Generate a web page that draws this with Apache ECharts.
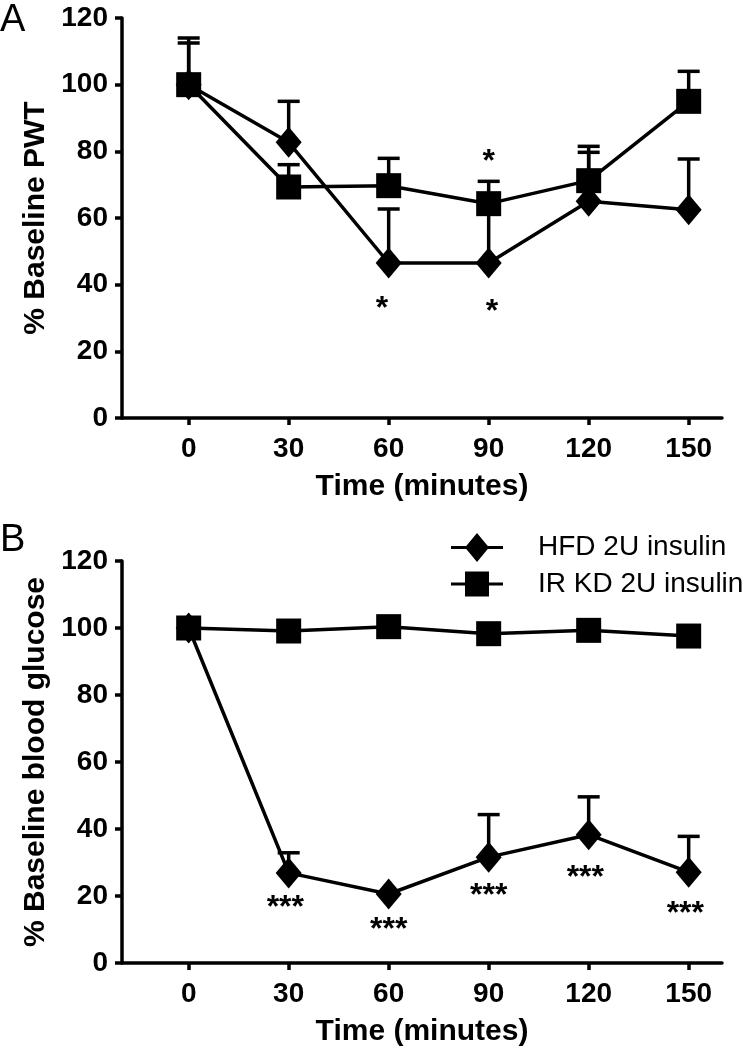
<!DOCTYPE html>
<html>
<head>
<meta charset="utf-8">
<script src="https://cdn.jsdelivr.net/npm/echarts@6.0.0/dist/echarts.min.js"></script>
<style>
html,body{margin:0;padding:0;background:#fff;}
#chart{width:745px;height:1050px;}
</style>
</head>
<body>
<div id="chart"></div>
<script>
// ---- data ----
const timeMin = [0, 30, 60, 90, 120, 150];
const xTicks = [0, 30, 60, 90, 120, 150];
const yTicks = [0, 20, 40, 60, 80, 100, 120];

// Panel A: % Baseline PWT
const pwtHFD      = [100, 82.7, 46.5, 46.5, 65.0, 62.5];
const pwtHFDUpper = [112.5, 95.0, 62.7, 62.3, 79.7, 77.7];
const pwtIR       = [100, 69.3, 69.7, 64.3, 71.2, 95.0];
const pwtIRUpper  = [114.0, 76.0, 77.9, 71.0, 81.5, 104.0];
const starsA_x    = [58, 90, 91];
const starsA_y    = [35, 79, 34];
const starsA_text = ['*', '*', '*'];

// Panel B: % Baseline blood glucose
const gluHFD      = [100, 26.9, 20.6, 31.6, 38.3, 27.1];
const gluHFDUpper = [100, 32.9, 20.6, 44.3, 49.6, 37.8];
const gluIR       = [100, 99.1, 100.4, 98.3, 99.3, 97.6];
const starsB_x    = [29, 60, 90, 119, 149];
const starsB_y    = [18.9, 12.3, 22.4, 27.6, 16.9];
const starsB_text = ['***', '***', '***', '***', '***'];

const seriesNames = ['HFD 2U insulin', 'IR KD 2U insulin'];
// ---------------

const FONT = '"Liberation Sans", Arial, Helvetica, sans-serif';
const chart = echarts.init(document.getElementById('chart'), null, {renderer: 'canvas'});

function pts(ys) { return timeMin.map((t, i) => [t, ys[i]]); }
function errPts(ys, up) { return timeMin.map((t, i) => [t, ys[i], up[i]]); }
function starPts(xs, ys) { return xs.map((x, i) => [x, ys[i]]); }

function errRender(params, api) {
  const x = api.value(0), y = api.value(1), hi = api.value(2);
  if (!(hi > y)) return null;
  const p0 = api.coord([x, y]);
  const p1 = api.coord([x, hi]);
  const hw = 11;
  return {
    type: 'group',
    children: [
      {type: 'line', shape: {x1: p0[0], y1: p0[1], x2: p1[0], y2: p1[1]}, style: {stroke: '#000', lineWidth: 3.5}},
      {type: 'line', shape: {x1: p1[0] - hw, y1: p1[1], x2: p1[0] + hw, y2: p1[1]}, style: {stroke: '#000', lineWidth: 3.5}}
    ]
  };
}
function starRender(texts) {
  return function (params, api) {
    const p = api.coord([api.value(0), api.value(1)]);
    return {
      type: 'text',
      x: p[0], y: p[1] + 8,
      style: {text: texts[params.dataIndex], font: 'bold 32px ' + FONT, fill: '#000', textAlign: 'center', textVerticalAlign: 'middle'}
    };
  };
}

function xAxisDef(idx) {
  return {
    type: 'value', gridIndex: idx, min: -20, max: 160,
    name: 'Time (minutes)', nameLocation: 'middle', nameGap: 54,
    nameTextStyle: {fontFamily: FONT, fontWeight: 'bold', fontSize: 30, color: '#000'},
    axisLine: {show: true, onZero: false, lineStyle: {color: '#000', width: 3.5}},
    axisTick: {show: true, length: 7, lineStyle: {color: '#000', width: 3.5}, customValues: xTicks},
    axisLabel: {fontFamily: FONT, fontWeight: 'bold', fontSize: 28, color: '#000', margin: 17, customValues: xTicks},
    splitLine: {show: false}
  };
}
function yAxisDef(idx, name) {
  return {
    type: 'value', gridIndex: idx, min: 0, max: 120, interval: 20,
    name: name, nameLocation: 'middle', nameGap: 70, nameRotate: 90,
    nameTextStyle: {fontFamily: FONT, fontWeight: 'bold', fontSize: 30, color: '#000'},
    axisLine: {show: true, onZero: false, lineStyle: {color: '#000', width: 3.5}},
    axisTick: {show: true, length: 7, lineStyle: {color: '#000', width: 3.5}},
    axisLabel: {fontFamily: FONT, fontWeight: 'bold', fontSize: 28, color: '#000', margin: 14},
    splitLine: {show: false}
  };
}
function lineSeries(name, xi, data, symbol, size) {
  return {
    type: 'line', name: name, xAxisIndex: xi, yAxisIndex: xi, data: data,
    symbol: symbol, symbolSize: size, showSymbol: true,
    lineStyle: {color: '#000', width: 3.5}, itemStyle: {color: '#000'},
    z: 3, animation: false
  };
}
function errSeries(xi, data) {
  return {type: 'custom', xAxisIndex: xi, yAxisIndex: xi, data: data, renderItem: errRender, z: 2, animation: false, encode: {x: 0, y: 1}};
}
function starSeries(xi, data, texts) {
  return {type: 'custom', xAxisIndex: xi, yAxisIndex: xi, data: data, renderItem: starRender(texts), z: 4, animation: false, encode: {x: 0, y: 1}};
}

const DIAMOND = [26, 31];
const SQUARE = [25, 25];

const option = {
  backgroundColor: '#fff',
  animation: false,
  grid: [
    {left: 122, top: 18, width: 600, height: 400},
    {left: 122, top: 561, width: 600, height: 402}
  ],
  xAxis: [xAxisDef(0), xAxisDef(1)],
  yAxis: [yAxisDef(0, '% Baseline PWT'), yAxisDef(1, '% Baseline blood glucose')],
  legend: {
    orient: 'vertical', left: 446, top: 528, itemWidth: 52, itemHeight: 29, itemGap: 8,
    textStyle: {fontFamily: FONT, fontSize: 28, color: '#000', padding: [0, 0, 0, 30]},
    data: [
      {name: seriesNames[0], icon: 'path://M0,13 L52,13 L52,16 L0,16 Z M26,0 L38,14.5 L26,29 L14,14.5 Z'},
      {name: seriesNames[1], icon: 'path://M0,13 L52,13 L52,16 L0,16 Z M14,2 L38,2 L38,27 L14,27 Z'}
    ]
  },
  graphic: [
    {type: 'text', left: 0, top: 2, style: {text: 'A', font: '38px ' + FONT, fill: '#000'}},
    {type: 'text', left: 0, top: 522, style: {text: 'B', font: '38px ' + FONT, fill: '#000'}}
  ],
  series: [
    errSeries(0, errPts(pwtHFD, pwtHFDUpper)),
    errSeries(0, errPts(pwtIR, pwtIRUpper)),
    lineSeries(seriesNames[0], 0, pts(pwtHFD), 'diamond', DIAMOND),
    lineSeries(seriesNames[1], 0, pts(pwtIR), 'rect', SQUARE),
    starSeries(0, starPts(starsA_x, starsA_y), starsA_text),
    errSeries(1, errPts(gluHFD, gluHFDUpper)),
    lineSeries(seriesNames[0], 1, pts(gluHFD), 'diamond', DIAMOND),
    lineSeries(seriesNames[1], 1, pts(gluIR), 'rect', SQUARE),
    starSeries(1, starPts(starsB_x, starsB_y), starsB_text)
  ]
};
chart.setOption(option);
</script>
</body>
</html>
